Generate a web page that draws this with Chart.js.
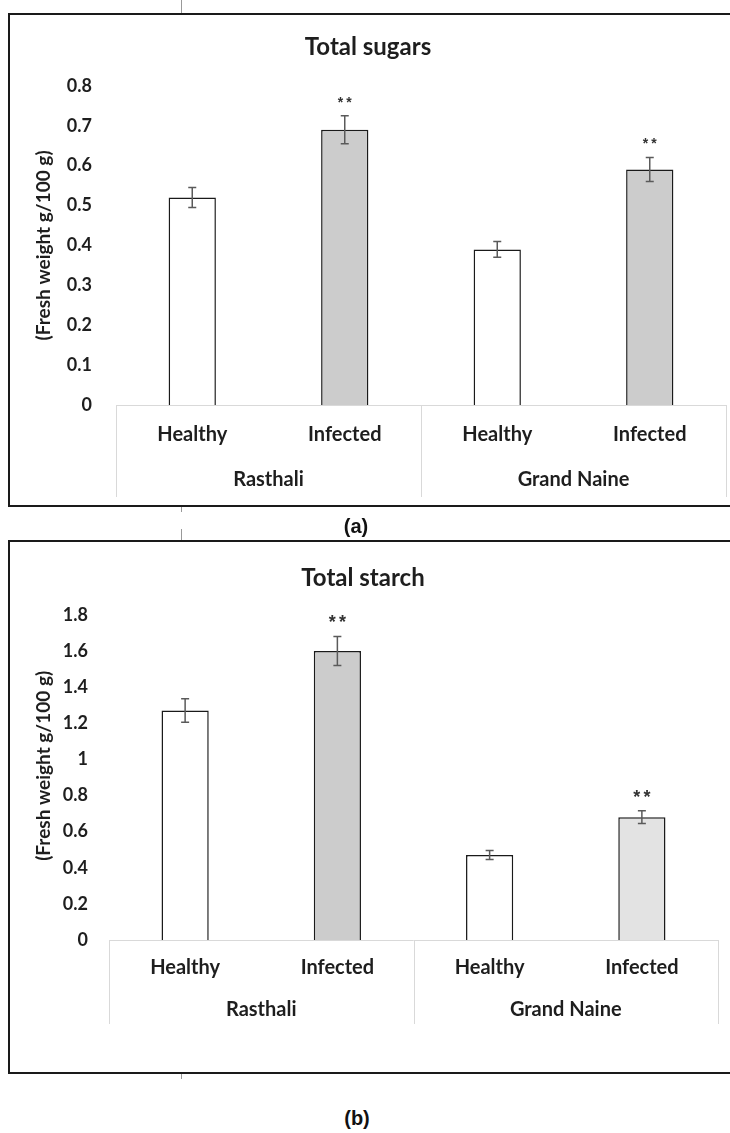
<!DOCTYPE html>
<html>
<head>
<meta charset="utf-8">
<script src="https://cdn.jsdelivr.net/npm/chart.js@4.4.0/dist/chart.umd.min.js"></script>
<style>
    body { margin: 0; background: #fff; width: 730px; height: 1133px; position: relative; overflow: hidden; }
    .panel { position: absolute; left: 8px; width: 740px; border: 2px solid #1a1a1a; }
    #panelA { top: 13px; height: 490px; }
    #panelB { top: 540px; height: 530px; }
    canvas { position: absolute; left: 0; }
    .caption { position: absolute; font: bold 20px "Liberation Sans", Arial, sans-serif; color: #111; transform: translate(-50%, -50%); }
    .cell { position: absolute; left: 181px; width: 1px; background: #999; }
</style>
</head>
<body>
<div class="cell" style="top:0;height:14px"></div>
<div class="cell" style="top:506px;height:6px"></div>
<div class="cell" style="top:529px;height:12px"></div>
<div class="cell" style="top:1073px;height:6px"></div>
<div class="panel" id="panelA"></div>
<div class="panel" id="panelB"></div>
<canvas id="sugarCanvas" width="730" height="510" style="top:0"></canvas>
<canvas id="starchCanvas" width="730" height="520" style="top:530px"></canvas>
<div class="caption" style="left:356px;top:526px">(a)</div>
<div class="caption" style="left:357px;top:1118px">(b)</div>

<script>
// categories
let categories = ['Healthy', 'Infected', 'Healthy', 'Infected'];
let groups = ['Rasthali', 'Grand Naine'];

// (a) total sugars
let sugarValues = [0.52, 0.69, 0.39, 0.59];
let sugarErrors = [0.025, 0.035, 0.02, 0.03];
let sugarMarks = ['', '**', '', '**'];
let sugarColors = ['#ffffff', '#cccccc', '#ffffff', '#cccccc'];
let sugarTicks = [0, 0.1, 0.2, 0.3, 0.4, 0.5, 0.6, 0.7, 0.8];

// (b) total starch
let starchValues = [1.27, 1.6, 0.47, 0.68];
let starchErrors = [0.065, 0.08, 0.025, 0.035];
let starchMarks = ['', '**', '', '**'];
let starchColors = ['#ffffff', '#cccccc', '#ffffff', '#e3e3e3'];
let starchTicks = [0, 0.2, 0.4, 0.6, 0.8, 1, 1.2, 1.4, 1.6, 1.8];

let yTitle = '(Fresh weight g/100 g)';
let fontFamily = 'Lato, "Open Sans", sans-serif';
let textColor = '#1e1e1e';

let errorBarPlugin = {
    id: 'errorBars',
    afterDatasetsDraw: function (chart, args, opts) {
        let ctx = chart.ctx;
        let y = chart.scales.y;
        let values = chart.data.datasets[0].data;
        ctx.save();
        chart.getDatasetMeta(0).data.forEach(function (bar, i) {
            let top = y.getPixelForValue(values[i] + opts.errors[i]);
            let bottom = y.getPixelForValue(values[i] - opts.errors[i]);
            ctx.strokeStyle = '#5a5a5a';
            ctx.lineWidth = 1.5;
            ctx.beginPath();
            ctx.moveTo(bar.x, top);
            ctx.lineTo(bar.x, bottom);
            ctx.moveTo(bar.x - 4, top);
            ctx.lineTo(bar.x + 4, top);
            ctx.moveTo(bar.x - 4, bottom);
            ctx.lineTo(bar.x + 4, bottom);
            ctx.stroke();
            if (opts.marks[i]) {
                ctx.fillStyle = '#333';
                ctx.font = 'bold ' + opts.markSize + 'px "Liberation Sans", Arial, sans-serif';
                ctx.letterSpacing = '3px';
                ctx.textAlign = 'center';
                ctx.textBaseline = 'middle';
                ctx.fillText(opts.marks[i], bar.x + 1.5, top - opts.markGap);
            }
        });
        ctx.restore();
    }
};

// light grey frame around the two rows of category labels
let categoryBoxPlugin = {
    id: 'categoryBox',
    beforeDatasetsDraw: function (chart) {
        let ctx = chart.ctx;
        let area = chart.chartArea;
        let x = chart.scales.x;
        let bottom = chart.scales.x2.bottom;
        let mid = (x.getPixelForValue(1) + x.getPixelForValue(2)) / 2;
        ctx.save();
        ctx.strokeStyle = '#d9d9d9';
        ctx.lineWidth = 1;
        ctx.beginPath();
        ctx.moveTo(area.left, area.bottom + 0.5);
        ctx.lineTo(area.right, area.bottom + 0.5);
        [area.left, mid, area.right].forEach(function (px) {
            ctx.moveTo(Math.round(px) + 0.5, area.bottom);
            ctx.lineTo(Math.round(px) + 0.5, bottom);
        });
        ctx.stroke();
        ctx.restore();
    }
};

let drawBars = function (id, title, values, errors, marks, colors, ticks, s) {
    let ctx = document.getElementById(id).getContext('2d');
    return new Chart(ctx, {
        type: 'bar',
        data: {
            labels: categories,
            datasets: [{
                data: values,
                backgroundColor: colors,
                borderColor: '#1a1a1a',
                borderWidth: 1.5,
                barPercentage: 0.31,
                categoryPercentage: 1
            }]
        },
        plugins: [categoryBoxPlugin, errorBarPlugin],
        options: {
            responsive: false,
            animation: false,
            layout: { padding: s.padding },
            plugins: {
                legend: { display: false },
                tooltip: { enabled: false },
                title: {
                    display: true,
                    text: title,
                    color: textColor,
                    font: { family: fontFamily, size: 24, weight: 'bold' },
                    padding: s.titlePadding
                },
                errorBars: { errors: errors, marks: marks, markSize: s.markSize, markGap: s.markGap }
            },
            scales: {
                y: {
                    min: ticks[0],
                    max: ticks[ticks.length - 1],
                    afterBuildTicks: function (scale) {
                        scale.ticks = ticks.map(function (v) { return { value: v }; });
                    },
                    afterFit: function (scale) { scale.width = s.yWidth; },
                    grid: { display: false, drawTicks: false },
                    border: { display: false },
                    ticks: {
                        padding: s.yTickPad,
                        color: textColor,
                        font: { family: fontFamily, size: 18, weight: 'bold' },
                        callback: function (v) { return String(Math.round(v * 100) / 100); }
                    },
                    title: {
                        display: true,
                        // leading spaces nudge the rotated title upwards where needed
                        text: '\u00a0'.repeat(s.yTitleShift) + yTitle,
                        color: textColor,
                        font: { family: fontFamily, size: 19, weight: 'bold' },
                        padding: { top: s.yTitlePad, bottom: 0 }
                    }
                },
                x: {
                    afterFit: function (scale) { scale.height = s.xHeight; },
                    grid: { display: false, drawTicks: false },
                    border: { display: false },
                    ticks: {
                        padding: s.xTickPad,
                        color: textColor,
                        font: { family: fontFamily, size: 20, weight: 'bold' }
                    }
                },
                x2: {
                    type: 'category',
                    labels: groups,
                    position: 'bottom',
                    offset: true,
                    afterFit: function (scale) { scale.height = s.x2Height; },
                    grid: { display: false, drawTicks: false },
                    border: { display: false },
                    ticks: {
                        padding: s.x2TickPad,
                        color: textColor,
                        font: { family: fontFamily, size: 20, weight: 'bold' }
                    }
                }
            }
        }
    });
};

window.onload = function () {
    drawBars('sugarCanvas', 'Total sugars', sugarValues, sugarErrors, sugarMarks, sugarColors, sugarTicks, {
        padding: { top: 20, left: 10, right: 4, bottom: 13 },
        titlePadding: { top: 13, bottom: 24 },
        yWidth: 106, yTickPad: 24, yTitlePad: 22, yTitleShift: 0,
        xHeight: 47, xTickPad: 18, x2Height: 45, x2TickPad: 16,
        markSize: 14, markGap: 13
    });
    drawBars('starchCanvas', 'Total starch', starchValues, starchErrors, starchMarks, starchColors, starchTicks, {
        padding: { top: 20, left: 8, right: 12, bottom: 26 },
        titlePadding: { top: 14, bottom: 22 },
        yWidth: 101, yTickPad: 21, yTitlePad: 24, yTitleShift: 5,
        xHeight: 43, xTickPad: 16, x2Height: 41, x2TickPad: 15,
        markSize: 18, markGap: 13
    });
};
</script>
</body>
</html>
